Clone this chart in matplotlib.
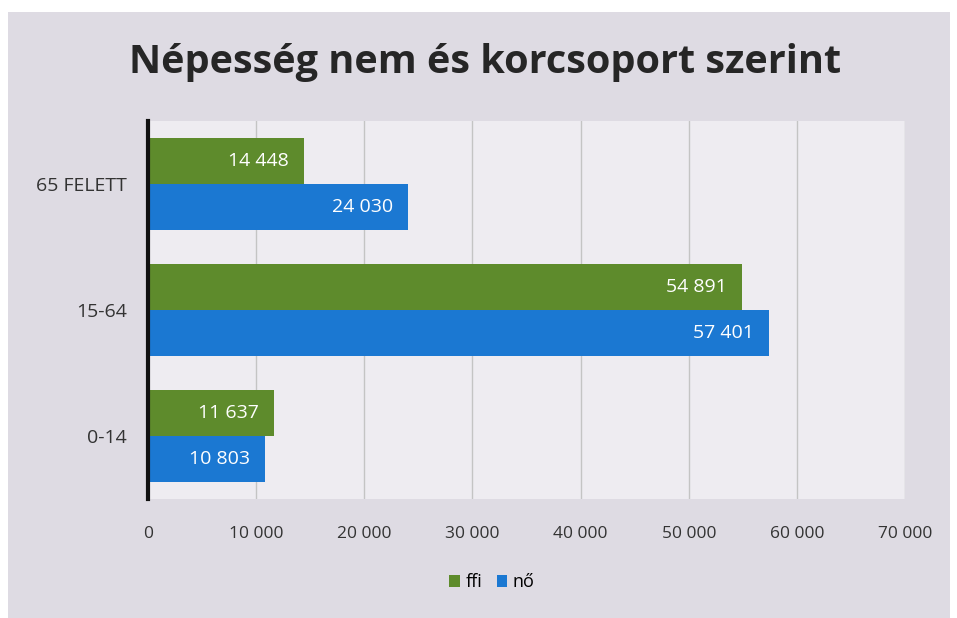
import matplotlib.pyplot as plt
from matplotlib.patches import Rectangle

plt.rcParams["font.family"] = ["Open Sans", "DejaVu Sans"]

categories = ["0-14", "15-64", "65 FELETT"]
ffi = [11637, 54891, 14448]
no = [10803, 57401, 24030]
xticks = [0, 10000, 20000, 30000, 40000, 50000, 60000, 70000]

green = "#5e8b2c"
blue = "#1b78d2"


def fmt(v):
    return f"{v:,}".replace(",", " ")


fig = plt.figure(figsize=(9.57, 6.18), dpi=100, facecolor="white")
# scanned page background
bg = Rectangle((0.008, 0.0), 0.985, 0.98, transform=fig.transFigure,
               facecolor="#dedbe3", edgecolor="none", zorder=-10)
fig.patches.append(bg)

ax = fig.add_axes([0.1547, 0.192, 0.791, 0.612])
ax.set_zorder(2)
ax.set_facecolor("#eeecf1")

h = 0.365
pos = list(range(len(categories)))
bars_f = ax.barh([p + h / 2 for p in pos], ffi, height=h, color=green, zorder=3, label="ffi")
bars_n = ax.barh([p - h / 2 for p in pos], no, height=h, color=blue, zorder=3, label="nő")

for bars, vals in ((bars_f, ffi), (bars_n, no)):
    for b, v in zip(bars, vals):
        ax.annotate(fmt(v), (v, b.get_y() + b.get_height() / 2),
                    xytext=(-11, 0), textcoords="offset points",
                    ha="right", va="center", color="white", fontsize=14, zorder=4)

ax.set_xlim(0, 70000)
ax.set_ylim(-0.5, 2.5)
ax.set_xticks(xticks)
ax.set_xticklabels([fmt(t) for t in xticks], fontsize=12.5, color="#333333")
ax.set_yticks(pos)
ax.set_yticklabels(categories, fontsize=14, color="#333333")
ax.tick_params(length=0)
ax.tick_params(axis="x", pad=19)
ax.tick_params(axis="y", pad=15)
ax.grid(axis="x", color="#c4c4c4", linewidth=1, zorder=0)
for s in ("top", "right", "bottom"):
    ax.spines[s].set_visible(False)
ax.spines["left"].set_linewidth(3)
ax.spines["left"].set_color("#111111")
ax.spines["left"].set_zorder(5)

fig.text(0.507, 0.882, "Népesség nem és korcsoport szerint", ha="center", va="baseline",
         fontsize=28.5, fontweight="bold", color="#262626", zorder=3)

leg = fig.legend(handles=[bars_f, bars_n], labels=["ffi", "nő"], loc="center",
                 bbox_to_anchor=(0.514, 0.058), ncol=2, frameon=False, fontsize=13,
                 handlelength=0.6, handleheight=0.6, handletextpad=0.3, columnspacing=0.8)
leg.set_zorder(3)

fig.savefig("out.png", dpi=100, facecolor=fig.get_facecolor())
